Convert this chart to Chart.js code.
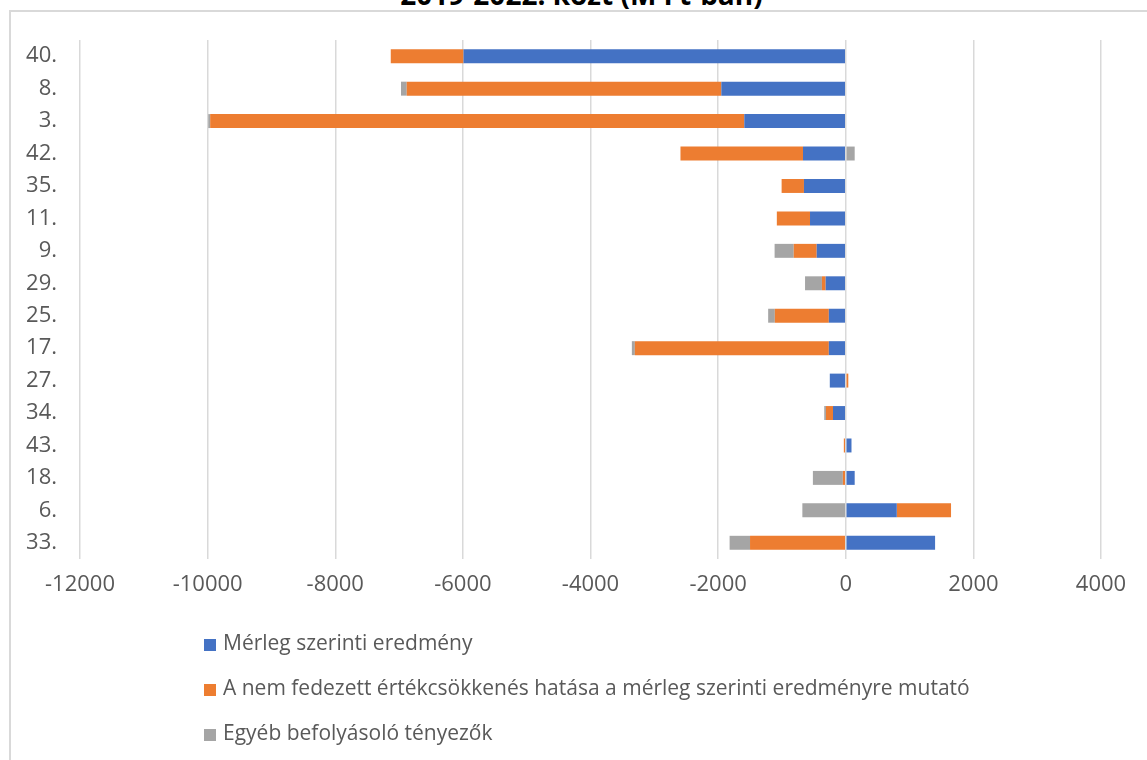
<!DOCTYPE html>
<html lang="hu">
<head>
<meta charset="utf-8">
<title>Eredmény</title>
<script src="https://cdn.jsdelivr.net/npm/chart.js@4.4.0/dist/chart.umd.min.js"></script>
<style>
    body { margin: 0; background: #ffffff; overflow: hidden; }
    #wrap { position: relative; width: 1147px; height: 760px; overflow: hidden; }
    #keret { position: absolute; left: 9px; top: 10px; width: 1200px; height: 800px;
        border-left: 2px solid #d9d9d9; border-top: 2px solid #d9d9d9; }
    #cim { position: absolute; left: 8px; top: -20px; width: 1147px; text-align: center;
        font-family: "Open Sans", sans-serif; font-weight: bold; font-size: 28px; line-height: 28px;
        color: #000000; white-space: nowrap; }
    #grafikon-box { position: absolute; left: 0; top: 0; width: 1147px; height: 760px; }
    #jelmagyarazat { position: absolute; left: 204px; top: 620px; font-family: "Open Sans", sans-serif;
        font-size: 21px; color: #595959; }
    .jel { height: 45px; line-height: 45px; white-space: nowrap; }
    .jel span { display: inline-block; width: 12px; height: 12px; margin-right: 7px; vertical-align: -1px; }
</style>
</head>
<body>
<div id="wrap">
    <div id="keret"></div>
    <div id="cim">2019-2022. közt (M Ft-ban)</div>
    <div id="grafikon-box"><canvas id="grafikon-eredmeny"></canvas></div>
    <div id="jelmagyarazat"></div>
</div>
<script>
// Kategóriák (fentről lefelé)
let labelsEredmeny = ["40.", "8.", "3.", "42.", "35.", "11.", "9.", "29.", "25.", "17.", "27.", "34.", "43.", "18.", "6.", "33."];

// Sorozatok (M Ft)
let merlegSzerinti = [-5990, -1950, -1590, -670, -655, -560, -455, -315, -265, -265, -250, -200, 90, 140, 800, 1400];
let nemFedezett = [-1140, -4930, -8370, -1920, -350, -520, -360, -58, -846, -3040, 40, -110, -30, -45, 850, -1500];
let egyebTenyezok = [0, -90, -30, 140, 0, 0, -300, -265, -105, -47, 0, -27, 0, -470, -680, -320];

let xTicks = [-12000, -10000, -8000, -6000, -4000, -2000, 0, 2000, 4000];

const betu = "'Open Sans', sans-serif";
const szurke = "#595959";

let dadosEredmeny = {
    labels: labelsEredmeny,
    datasets: [{
        label: "Mérleg szerinti eredmény",
        data: merlegSzerinti,
        backgroundColor: "#4472C4"
    },
    {
        label: "A nem fedezett értékcsökkenés hatása a mérleg szerinti eredményre mutató",
        data: nemFedezett,
        backgroundColor: "#ED7D31"
    },
    {
        label: "Egyéb befolyásoló tényezők",
        data: egyebTenyezok,
        backgroundColor: "#A5A5A5"
    }]
};

const configEredmeny = {
    type: "bar",
    data: dadosEredmeny,
    options: {
        indexAxis: "y",
        responsive: true,
        maintainAspectRatio: false,
        animation: false,
        barPercentage: 0.43,
        categoryPercentage: 1,
        layout: { padding: { left: 0, right: 46, top: 40, bottom: 161 } },
        plugins: {
            legend: { display: false },
            tooltip: { enabled: false }
        },
        scales: {
            x: {
                stacked: true,
                min: -12000,
                max: 4000,
                afterBuildTicks: (scale) => { scale.ticks = xTicks.map(v => ({ value: v })); },
                afterFit: (scale) => { scale.height = 40; },
                grid: { color: "#d9d9d9", lineWidth: 1.5, drawTicks: false },
                border: { display: false },
                ticks: {
                    color: szurke, padding: 13, maxRotation: 0,
                    font: { family: betu, size: 22 },
                    callback: (v) => String(v)
                }
            },
            y: {
                stacked: true,
                afterFit: (scale) => { scale.width = 80; },
                grid: { display: false, drawTicks: false },
                border: { display: false },
                ticks: { color: szurke, padding: 23, font: { family: betu, size: 22 } }
            }
        }
    }
};

let myChartEredmeny = new Chart(
    document.getElementById("grafikon-eredmeny"),
    configEredmeny
);

// Jelmagyarázat egymás alatt, mint az eredetin
let jelDiv = document.getElementById("jelmagyarazat");
myChartEredmeny.data.datasets.forEach(ds => {
    let sor = document.createElement("div");
    sor.className = "jel";
    let doboz = document.createElement("span");
    doboz.style.background = ds.backgroundColor;
    sor.appendChild(doboz);
    sor.appendChild(document.createTextNode(ds.label));
    jelDiv.appendChild(sor);
});
</script>
</body>
</html>
